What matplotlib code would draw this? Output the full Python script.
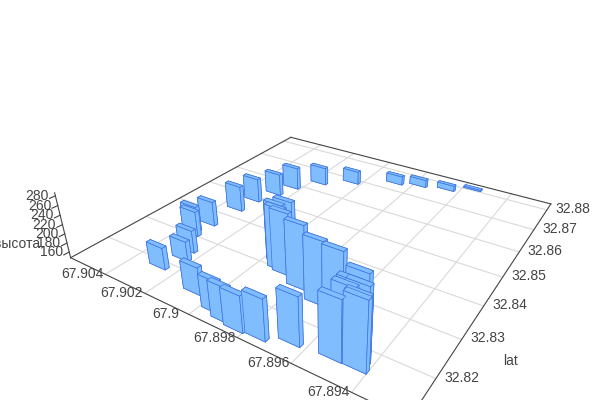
import matplotlib
matplotlib.use("Agg")
import matplotlib.pyplot as plt
import numpy as np
from mpl_toolkits.mplot3d import proj3d

plt.rcParams["font.family"] = ["Liberation Sans", "DejaVu Sans"]

# near corner of each bar (lowest lat, lowest lon) and its top
lat = [32.818, 32.8223, 32.8251, 32.83, 32.8312, 32.835, 32.843, 32.8484, 32.8536, 32.8583,
       32.8637, 32.8682, 32.8735, 32.8754, 32.8771, 32.8804,
       32.8158, 32.8137, 32.8127, 32.8122, 32.8126, 32.8145, 32.8151, 32.8152,
       32.8296, 32.829, 32.8314, 32.8329, 32.827, 32.825, 32.8242,
       32.8212, 32.8185, 32.8165, 32.8185, 32.817]
lon = [67.90243, 67.90213, 67.90233, 67.90303, 67.90323, 67.90303, 67.9029, 67.9028, 67.9024, 67.9021,
       67.9013, 67.9001, 67.8984, 67.8974, 67.8962, 67.8952,
       67.90035, 67.89915, 67.89857, 67.89797, 67.89717, 67.89617, 67.8948, 67.894,
       67.8988, 67.8985, 67.8991, 67.8989, 67.8976, 67.8966, 67.8958,
       67.8946, 67.8943, 67.8941, 67.8946, 67.8946]
height = [194, 190, 196, 203, 205, 202, 205, 202, 198, 199,
          189, 178, 168, 165, 160, 150,
          205, 213, 219, 221, 230, 244, 265, 281,
          277, 277, 272, 275, 279, 276, 277,
          277, 277, 275, 277, 277]

lat_ticks = [32.82, 32.83, 32.84, 32.85, 32.86, 32.87, 32.88]
lon_ticks = [67.904, 67.902, 67.9, 67.898, 67.896, 67.894]
lon_tick_labels = ["67.904", "67.902", "67.9", "67.898", "67.896", "67.894"]
z_ticks = [160, 180, 200, 220, 240, 260, 280]

lat_range = (32.811, 32.8833)
lon_range = (67.8923, 67.9059)
z_range = (147, 286)
bar_dlat = 0.001
bar_dlon = 0.00078

fig = plt.figure(figsize=(6, 4), dpi=100)
# square axes, camera centre ends up near pixel (329, 199)
ax = fig.add_axes([76.4 / 600, -51.6 / 400, 492 / 600, 492 / 400], projection="3d")
ax.set_box_aspect((1, 1, 0.196))
ax.view_init(elev=28.3, azim=212.8)
ax.set_proj_type("persp", focal_length=0.2242)
ax.set_xlim(*lat_range)
ax.set_ylim(*lon_range)
ax.set_zlim(*z_range)
ax.set_axis_off()
ax.computed_zorder = False

# floor grid
for t in lat_ticks:
    ax.plot([t, t], lon_range, [z_range[0]] * 2, color="#d9d9d9", lw=0.8, clip_on=False, zorder=1)
for t in lon_ticks:
    ax.plot(lat_range, [t, t], [z_range[0]] * 2, color="#d9d9d9", lw=0.8, clip_on=False, zorder=1)

# box edges on the floor
for a, b in [((lat_range[0], lon_range[0]), (lat_range[1], lon_range[0])),
             ((lat_range[0], lon_range[0]), (lat_range[0], lon_range[1])),
             ((lat_range[1], lon_range[0]), (lat_range[1], lon_range[1])),
             ((lat_range[0], lon_range[1]), (lat_range[1], lon_range[1]))]:
    ax.plot([a[0], b[0]], [a[1], b[1]], [z_range[0]] * 2, color="#444444", lw=0.8, clip_on=False, zorder=2)

# z axis at the left corner
ax.plot([lat_range[0]] * 2, [lon_range[1]] * 2, z_range, color="#444444", lw=0.8, clip_on=False, zorder=2)
for t in z_ticks:
    ax.plot([lat_range[0], lat_range[0] - 0.0012], [lon_range[1]] * 2, [t, t], color="#444444", lw=0.8,
            clip_on=False, zorder=2)

# bars
tops = np.array(height, dtype=float)
bars = ax.bar3d(lat, lon, np.full(len(tops), z_range[0]), bar_dlat, bar_dlon, tops - z_range[0],
                color="#80bdff", edgecolor="#3f74e0", linewidth=0.5, shade=False, zorder=5)
bars.set_clip_on(False)

# tick labels sit a fixed pixel offset from the axis lines
M = ax.get_proj()


def label(x, y, z, text, dx, dy, **kw):
    px, py, _ = proj3d.proj_transform(x, y, z, M)
    ax.annotate(text, (px, py), xytext=(dx * 0.72, -dy * 0.72), textcoords="offset points",
                ha="center", va="center", color="#444444", fontsize=10, annotation_clip=False, **kw)


for t, s in zip(lon_ticks, lon_tick_labels):
    label(lat_range[0], t, z_range[0], s, -23, 0)
for t in lat_ticks:
    label(t, lon_range[0], z_range[0], "%g" % t, 26, -1)
for t in z_ticks:
    label(lat_range[0], lon_range[1], t, str(t), -18, 0)

label(32.8245, lon_range[0], z_range[0], "lat", 62, 1)
label(lat_range[0], lon_range[1], 222, "высота", -45, 20)

fig.savefig("out.png", dpi=100)
